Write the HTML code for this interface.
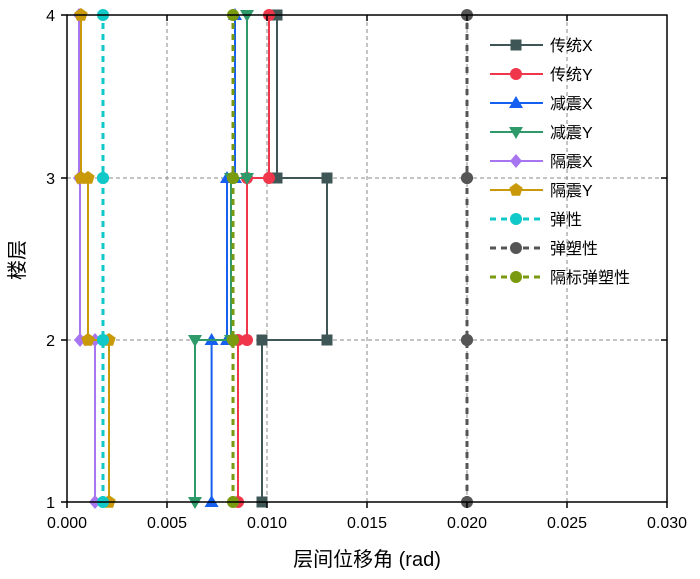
<!DOCTYPE html>
<html><head><meta charset="utf-8"><style>
body{margin:0;background:#fff;}
svg{display:block;font-family:"Liberation Sans","Noto Sans CJK SC",sans-serif;}
</style></head><body>
<svg id="s" width="700" height="579" xmlns="http://www.w3.org/2000/svg">
<rect width="700" height="579" fill="#fff"/>
<g stroke="#888" stroke-width="1" stroke-dasharray="4,3">
<line x1="167" y1="15" x2="167" y2="502"/><line x1="267" y1="15" x2="267" y2="502"/><line x1="367" y1="15" x2="367" y2="502"/><line x1="467" y1="15" x2="467" y2="502"/><line x1="567" y1="15" x2="567" y2="502"/>
<line x1="67" y1="178" x2="667" y2="178"/><line x1="67" y1="340" x2="667" y2="340"/>
</g>
<g id="data"></g>
<rect x="67" y="15" width="600" height="487" fill="none" stroke="#000" stroke-width="1.5"/>
<g stroke="#000" stroke-width="1.5">
<line x1="67" y1="502" x2="67" y2="508"/><line x1="167" y1="502" x2="167" y2="508"/><line x1="267" y1="502" x2="267" y2="508"/><line x1="367" y1="502" x2="367" y2="508"/><line x1="467" y1="502" x2="467" y2="508"/><line x1="567" y1="502" x2="567" y2="508"/><line x1="667" y1="502" x2="667" y2="508"/>
<line x1="167" y1="15" x2="167" y2="21"/><line x1="267" y1="15" x2="267" y2="21"/><line x1="367" y1="15" x2="367" y2="21"/><line x1="467" y1="15" x2="467" y2="21"/><line x1="567" y1="15" x2="567" y2="21"/>
<line x1="61" y1="15" x2="67" y2="15"/><line x1="61" y1="178" x2="67" y2="178"/><line x1="61" y1="340" x2="67" y2="340"/><line x1="61" y1="502" x2="67" y2="502"/>
<line x1="661" y1="178" x2="667" y2="178"/><line x1="661" y1="340" x2="667" y2="340"/>
</g>
<g font-size="16" fill="#000" text-anchor="middle">
<text x="67" y="528">0.000</text><text x="167" y="528">0.005</text><text x="267" y="528">0.010</text><text x="367" y="528">0.015</text><text x="467" y="528">0.020</text><text x="567" y="528">0.025</text><text x="667" y="528">0.030</text>
</g>
<g font-size="16" text-anchor="end"><text x="55" y="21">4</text><text x="55" y="184">3</text><text x="55" y="346">2</text><text x="55" y="508">1</text></g>
<text x="367" y="566" font-size="20" text-anchor="middle">层间位移角 (rad)</text>
<text transform="translate(24,260) rotate(-90)" font-size="20" text-anchor="middle">楼层</text>
<g id="leg"></g>
</svg>
<script>
const X=v=>67+v*20000, Y=[0,502,340,178,15];
const S=[
["传统X","#3f5656","sq",[0.00975,0.013,0.0105],0],
["传统Y","#f0364a","ci",[0.00855,0.0090,0.0101],0],
["减震X","#1560f0","up",[0.00723,0.0080,0.0084],0],
["减震Y","#2e9a6a","dn",[0.0064,0.0082,0.0090],0],
["隔震X","#a775f0","di",[0.0014,0.00065,0.0006],0],
["隔震Y","#c9990a","pe",[0.0021,0.00105,0.0007],0],
["弹性","#10c8c8","ci",[0.0018,0.0018,0.0018],1],
["弹塑性","#555555","ci",[0.02,0.02,0.02],1],
["隔标弹塑性","#7a9a10","ci",[0.0083,0.0083,0.0083],1]];
function mk(t,x,y,c){const r=6;
 if(t=="sq")return `<rect x="${x-5.5}" y="${y-5.5}" width="11" height="11" fill="${c}"/>`;
 if(t=="ci")return `<circle cx="${x}" cy="${y}" r="${r}" fill="${c}"/>`;
 if(t=="up")return `<polygon points="${x},${y-7} ${x-7},${y+5} ${x+7},${y+5}" fill="${c}"/>`;
 if(t=="dn")return `<polygon points="${x},${y+7} ${x-7},${y-5} ${x+7},${y-5}" fill="${c}"/>`;
 if(t=="di")return `<polygon points="${x},${y-7} ${x+6},${y} ${x},${y+7} ${x-6},${y}" fill="${c}"/>`;
 if(t=="pe"){let p=[];for(let i=0;i<5;i++){let a=-Math.PI/2+i*2*Math.PI/5;p.push((x+7*Math.cos(a)).toFixed(1)+","+(y+7*Math.sin(a)).toFixed(1));}return `<polygon points="${p.join(" ")}" fill="${c}"/>`;}
}
let d="",l="";
S.forEach((s,i)=>{const [n,c,t,v,da]=s;
 const pts=[[v[0],1],[v[0],2],[v[1],2],[v[1],3],[v[2],3],[v[2],4]].map(p=>[X(p[0]),Y[p[1]]]);
 const dash=da?'stroke-dasharray="6,5" stroke-width="3"':'stroke-width="2"';
 d+=`<polyline points="${pts.map(p=>p.join(",")).join(" ")}" fill="none" stroke="${c}" ${dash}/>`;
 pts.forEach(p=>d+=mk(t,p[0],p[1],c));
 const y=45+i*29;
 l+=`<line x1="490" y1="${y}" x2="543" y2="${y}" stroke="${c}" ${dash}/>`+mk(t,516,y,c)+`<text x="550" y="${y+6}" font-size="16">${n}</text>`;
});
document.getElementById("data").innerHTML=d;
document.getElementById("leg").innerHTML=l;
</script>
</body></html>
